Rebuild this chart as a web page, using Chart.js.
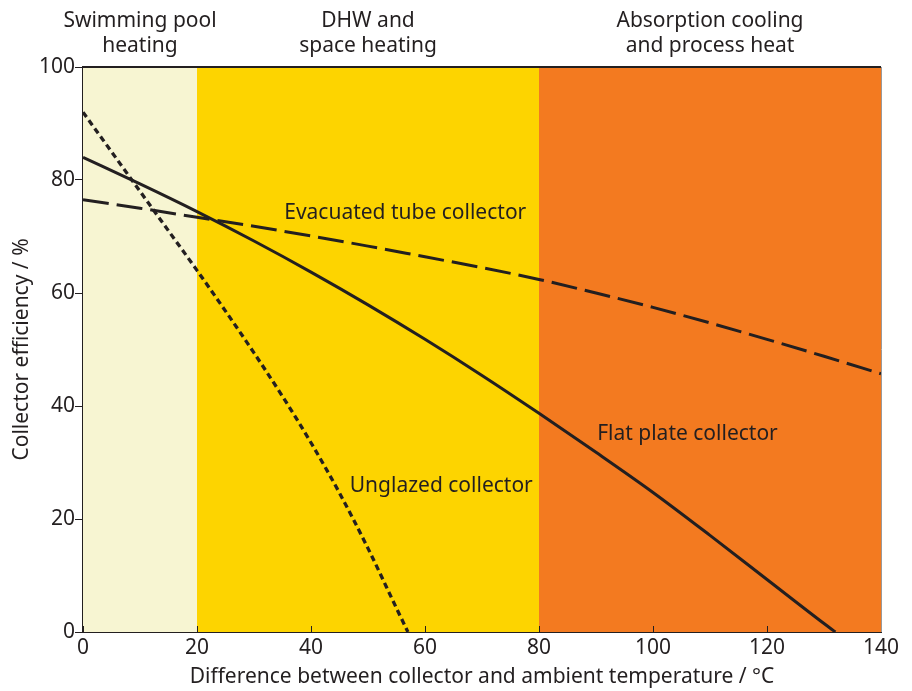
<!DOCTYPE html>
<html>
<head>
<meta charset="utf-8">
<script src="https://cdn.jsdelivr.net/npm/chart.js@4.4.0/dist/chart.umd.min.js"></script>
<style>
  html, body { margin: 0; padding: 0; background: #fff; }
  #wrap { width: 912px; height: 691px; }
</style>
</head>
<body>
<div id="wrap"><canvas id="chart"></canvas></div>
<script>
// values
const xTicks = [0, 20, 40, 60, 80, 100, 120, 140];
const yTicks = [0, 20, 40, 60, 80, 100];

const unglazedX = [0, 5, 10, 15, 20, 25, 30, 35, 40, 45, 50, 55, 57];
const unglazedY = [92, 85, 78, 71, 64, 56.8, 49.4, 41.7, 33.5, 24.6, 14.8, 4.2, 0];

const flatX = [0, 10, 20, 30, 40, 50, 60, 70, 80, 90, 100, 110, 120, 130, 132];
const flatY = [84, 79.3, 74.4, 69.2, 63.7, 57.9, 51.8, 45.4, 38.7, 31.8, 24.7, 17.1, 9.3, 1.5, 0];

const evacX = [0, 10, 20, 30, 40, 50, 60, 70, 80, 90, 100, 110, 120, 130, 140];
const evacY = [76.5, 75, 73.4, 71.8, 70.1, 68.3, 66.4, 64.5, 62.4, 60.0, 57.45, 54.7, 51.8, 48.8, 45.7];

const bandEdges = [[0, 20], [20, 80], [80, 140]];
const bandColors = ['#f7f5d2', '#fdd400', '#f37a20'];
const bandNames = [['Swimming pool', 'heating'], ['DHW and', 'space heating'], ['Absorption cooling', 'and process heat']];

const curveNames = ['Evacuated tube collector', 'Flat plate collector', 'Unglazed collector'];
const curveNameAt = [[35.3, 74.2], [90.2, 35.0], [46.8, 25.8]];

const ink = '#231f20';
const fontName = "'Noto Sans', 'Open Sans', sans-serif";
const fontSize = 21;

const toPoints = (xs, ys) => xs.map((x, i) => ({ x: x, y: ys[i] }));

const bandsPlugin = {
  id: 'bands',
  beforeDatasetsDraw(chart) {
    const { ctx, chartArea, scales } = chart;
    ctx.save();
    bandEdges.forEach((b, i) => {
      const x1 = scales.x.getPixelForValue(b[0]);
      const x2 = scales.x.getPixelForValue(b[1]);
      ctx.fillStyle = bandColors[i];
      ctx.fillRect(x1, chartArea.top, x2 - x1, chartArea.bottom - chartArea.top);
    });
    // inward ticks on the x axis
    ctx.strokeStyle = ink;
    ctx.lineWidth = 1;
    xTicks.forEach((t) => {
      const px = Math.round(scales.x.getPixelForValue(t)) + 0.5;
      ctx.beginPath();
      ctx.moveTo(px, chartArea.bottom);
      ctx.lineTo(px, chartArea.bottom - 6);
      ctx.stroke();
    });
    ctx.restore();
  },
  afterDraw(chart) {
    const { ctx, chartArea, scales } = chart;
    ctx.save();
    // top and right frame
    ctx.strokeStyle = ink;
    ctx.lineWidth = 2;
    ctx.beginPath();
    ctx.moveTo(chartArea.left, chartArea.top);
    ctx.lineTo(chartArea.right, chartArea.top);
    ctx.stroke();
    ctx.strokeStyle = '#9a9a9a';
    ctx.lineWidth = 1;
    ctx.beginPath();
    ctx.moveTo(chartArea.right + 0.5, chartArea.top);
    ctx.lineTo(chartArea.right + 0.5, chartArea.bottom);
    ctx.stroke();

    ctx.fillStyle = ink;
    ctx.font = fontSize + 'px ' + fontName;
    ctx.textAlign = 'center';
    ctx.textBaseline = 'middle';
    bandEdges.forEach((b, i) => {
      const cx = scales.x.getPixelForValue((b[0] + b[1]) / 2);
      ctx.fillText(bandNames[i][0], cx, 21);
      ctx.fillText(bandNames[i][1], cx, 46);
    });

    ctx.textAlign = 'left';
    curveNames.forEach((n, i) => {
      ctx.fillText(n, scales.x.getPixelForValue(curveNameAt[i][0]), scales.y.getPixelForValue(curveNameAt[i][1]));
    });
    ctx.restore();
  }
};

const lineStyle = {
  borderColor: ink,
  borderWidth: 3,
  pointRadius: 0,
  fill: false,
  cubicInterpolationMode: 'monotone',
};

new Chart(document.getElementById('chart'), {
  type: 'line',
  data: {
    datasets: [
      { ...lineStyle, label: curveNames[2], data: toPoints(unglazedX, unglazedY), borderDash: [6, 4], borderWidth: 3.3 },
      { ...lineStyle, label: curveNames[1], data: toPoints(flatX, flatY) },
      { ...lineStyle, label: curveNames[0], data: toPoints(evacX, evacY), borderDash: [26, 8] },
    ],
  },
  options: {
    responsive: true,
    maintainAspectRatio: false,
    animation: false,
    layout: { padding: { top: 67, right: 31, left: 0, bottom: 0 } },
    plugins: { legend: { display: false }, tooltip: { enabled: false } },
    scales: {
      x: {
        type: 'linear',
        min: 0,
        max: 140,
        afterFit: (s) => { s.height = 59; },
        afterBuildTicks: (s) => { s.ticks = xTicks.map((v) => ({ value: v })); },
        grid: { display: false },
        border: { display: true, color: ink, width: 2 },
        ticks: { color: ink, font: { family: fontName, size: fontSize }, padding: -5, maxRotation: 0 },
        title: {
          display: true,
          text: 'Difference between collector and ambient temperature / °C',
          color: ink,
          font: { family: fontName, size: fontSize },
          padding: { top: 0, bottom: 1 },
        },
      },
      y: {
        min: 0,
        max: 100,
        afterFit: (s) => { s.width = 83; },
        afterBuildTicks: (s) => { s.ticks = yTicks.map((v) => ({ value: v })); },
        grid: { drawOnChartArea: false, drawTicks: true, tickLength: 8, color: ink },
        border: { display: true, color: ink, width: 2 },
        ticks: { color: ink, font: { family: fontName, size: fontSize }, padding: 0 },
        title: {
          display: true,
          text: 'Collector efficiency / %',
          color: ink,
          font: { family: fontName, size: fontSize },
          padding: { top: 9, bottom: 0 },
        },
      },
    },
  },
  plugins: [bandsPlugin],
});
</script>
</body>
</html>
